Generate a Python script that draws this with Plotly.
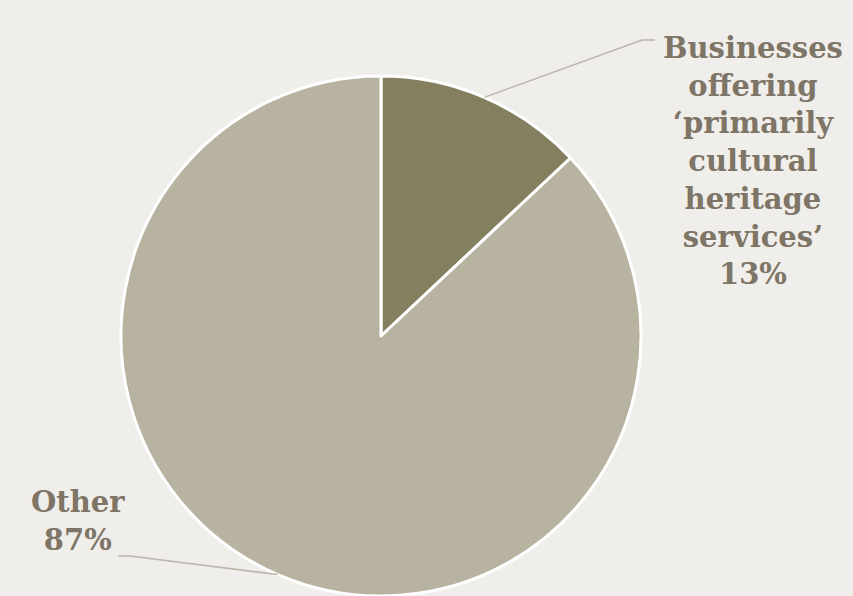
import math
import plotly.graph_objects as go

labels = ["Businesses offering \u2018primarily cultural heritage services\u2019", "Other"]
label_lines = [["Businesses", "offering", "\u2018primarily", "cultural", "heritage", "services\u2019"], ["Other"]]
values = [13, 87]
colors = ["#847F5F", "#B8B3A1"]

W, H = 853, 596
dom_x = [121 / W, 641 / W]
dom_y = [0.0, 520 / H]

fig = go.Figure(go.Pie(
    labels=labels, values=values, sort=False, direction="clockwise", rotation=0,
    marker=dict(colors=colors, line=dict(color="white", width=3)),
    textinfo="none", hoverinfo="label+percent", showlegend=False,
    domain=dict(x=dom_x, y=dom_y),
))

# geometry in paper fractions derived from the domain
cx_px = (dom_x[0] + dom_x[1]) / 2 * W
cy_px = H - (dom_y[0] + dom_y[1]) / 2 * H
r_px = min((dom_x[1] - dom_x[0]) * W, (dom_y[1] - dom_y[0]) * H) / 2

total = sum(values)
font = dict(family="DejaVu Serif", size=29, color="#7E7566")
label_pos = [(753, 161), (78, 521)]          # label centres in px
elbow = [(655, 40), (118, 556)]              # leader line elbows in px
shapes, annotations = [], []
start = 90.0
for i, v in enumerate(values):
    sweep = v / total * 360
    mid = math.radians(start - sweep / 2)
    start -= sweep
    px = cx_px + r_px * math.cos(mid)
    py = cy_px - r_px * math.sin(mid)
    ex, ey = elbow[i]
    hx = ex - 13 if i == 0 else ex + 12
    pts = [(px, py), (hx, ey), (ex, ey)]
    path = "M " + " L ".join(f"{x / W:.5f},{1 - y / H:.5f}" for x, y in pts)
    shapes.append(dict(type="path", xref="paper", yref="paper", path=path,
                       line=dict(color="#BDB6AA", width=1.5)))
    pct = round(v / total * 100)
    text = "<br>".join(f"<b>{t}</b>" for t in label_lines[i] + [f"{pct}%"])
    lx, ly = label_pos[i]
    annotations.append(dict(x=lx / W, y=1 - ly / H, xref="paper", yref="paper",
                            text=text, showarrow=False, align="center",
                            xanchor="center", yanchor="middle", font=font))

fig.update_layout(
    width=W, height=H, margin=dict(l=0, r=0, t=0, b=0),
    paper_bgcolor="#EFEEEB", plot_bgcolor="#EFEEEB",
    shapes=shapes, annotations=annotations,
)
fig.write_html("out.html")
